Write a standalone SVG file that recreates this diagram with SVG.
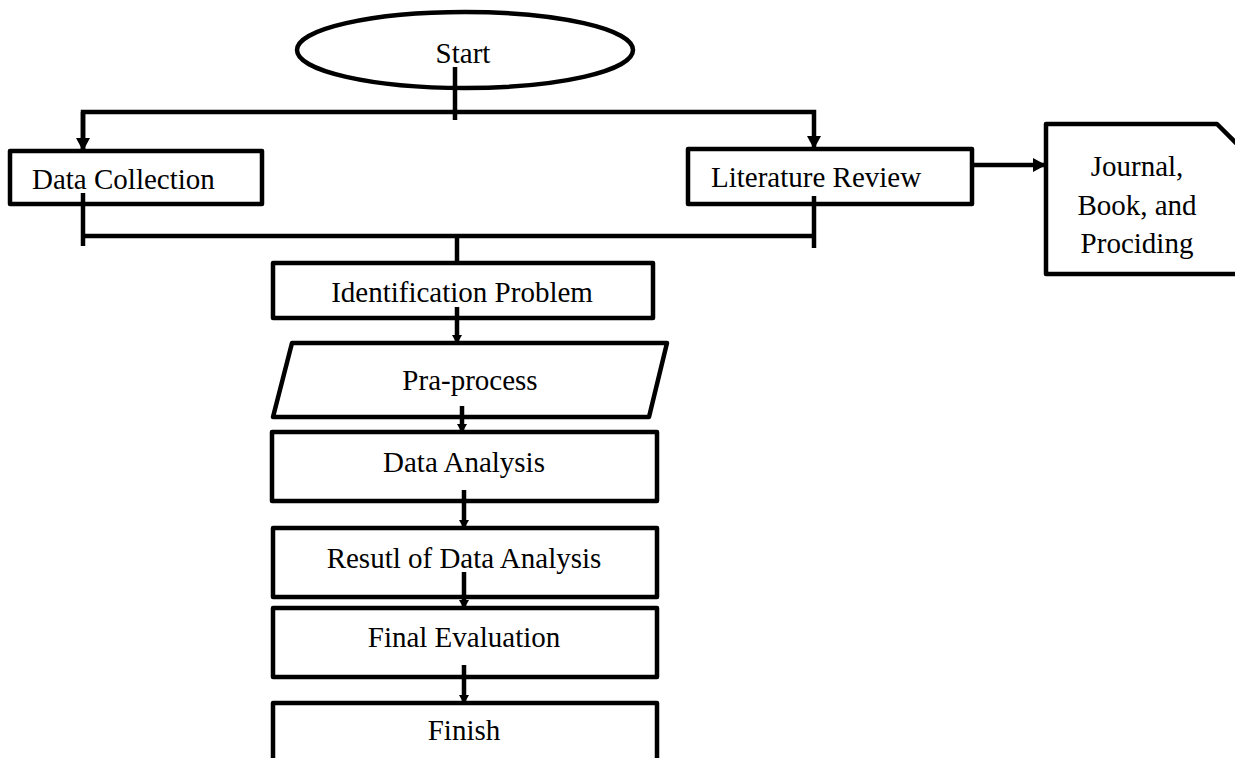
<svg xmlns="http://www.w3.org/2000/svg" width="1235" height="758" viewBox="0 0 1235 758">
<style>
.box{fill:#fff;stroke:#000;stroke-width:4.5;stroke-linejoin:round}
.lbl{font-family:"Liberation Serif","Times New Roman",serif;font-size:29px;fill:#000}
.c{text-anchor:middle}
.ln{fill:none;stroke:#000;stroke-width:4.5}
</style>
<defs>
<marker id="ah" markerUnits="userSpaceOnUse" markerWidth="14" markerHeight="14" refX="12" refY="7" orient="auto">
<path d="M0,0 L13,7 L0,14 Z" fill="#000"/>
</marker>
<marker id="ahs" markerUnits="userSpaceOnUse" markerWidth="12" markerHeight="12" refX="8" refY="6" orient="auto">
<path d="M0,1 L9,6 L0,11 Z" fill="#000"/>
</marker>
</defs>
<rect width="1235" height="758" fill="#fff"/>
<g id="start">
<ellipse class="box" cx="465" cy="50" rx="168" ry="38"/>
<text class="lbl c" x="463" y="63">Start</text>
</g>
<g id="data-collection">
<rect class="box" x="10" y="151" width="252" height="53"/>
<text class="lbl" x="32" y="189">Data Collection</text>
</g>
<g id="literature-review">
<rect class="box" x="688" y="149" width="284" height="55"/>
<text class="lbl" x="711" y="187">Literature Review</text>
</g>
<g id="journal">
<path class="box" d="M1046,124 L1217,124 L1262,169 L1262,274 L1046,274 Z"/>
<text class="lbl c" x="1137" y="176">Journal,</text>
<text class="lbl c" x="1137" y="215">Book, and</text>
<text class="lbl c" x="1137" y="253">Prociding</text>
</g>
<g id="identification">
<rect class="box" x="273" y="263" width="380" height="55"/>
<text class="lbl c" x="462" y="302">Identification Problem</text>
</g>
<g id="pra-process">
<path class="box" d="M292,343 L667,343 L649,417 L273,417 Z"/>
<text class="lbl c" x="470" y="390">Pra-process</text>
</g>
<g id="data-analysis">
<rect class="box" x="272" y="432" width="385" height="69"/>
<text class="lbl c" x="464" y="472">Data Analysis</text>
</g>
<g id="result">
<rect class="box" x="273" y="528" width="384" height="69"/>
<text class="lbl c" x="464" y="568">Resutl of Data Analysis</text>
</g>
<g id="final-evaluation">
<rect class="box" x="273" y="608" width="384" height="69"/>
<text class="lbl c" x="464" y="647">Final Evaluation</text>
</g>
<g id="finish">
<rect class="box" x="273" y="703" width="384" height="80"/>
<text class="lbl c" x="464" y="740">Finish</text>
</g>
<g id="connectors">
<path class="ln" d="M455,67 L455,120"/>
<path class="ln" d="M83,150 L83,112 L814,112 L814,148" marker-end="url(#ah)"/>
<path class="ln" d="M83,112 L83,150" marker-end="url(#ah)"/>
<path class="ln" d="M83,193 L83,246"/>
<path class="ln" d="M814,196 L814,248"/>
<path class="ln" d="M83,236 L814,236"/>
<path class="ln" d="M457,236 L457,263"/>
<path class="ln" d="M972,165 L1045,165" marker-end="url(#ah)"/>
<path class="ln" d="M457,307 L457,343" marker-end="url(#ahs)"/>
<path class="ln" d="M462,406 L462,432" marker-end="url(#ahs)"/>
<path class="ln" d="M464,490 L464,528" marker-end="url(#ahs)"/>
<path class="ln" d="M464,572 L464,608" marker-end="url(#ahs)"/>
<path class="ln" d="M464,665 L464,703" marker-end="url(#ahs)"/>
</g>
</svg>
